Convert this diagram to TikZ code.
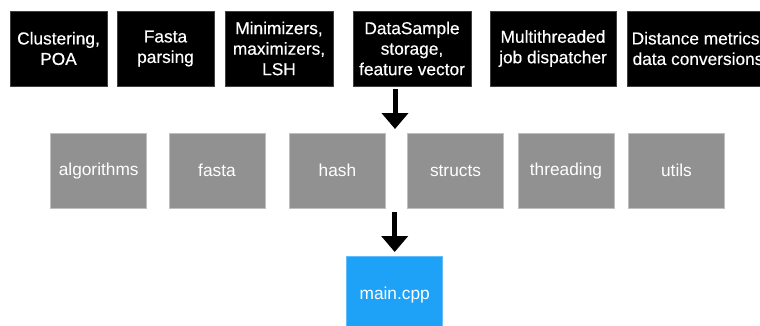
\documentclass[tikz,border=0pt]{standalone}
\usepackage{fontspec}
\setmainfont{Liberation Sans}
\newfontfamily\boxfont[FakeBold=0.4]{Liberation Sans}
\usetikzlibrary{arrows.meta}
\definecolor{boxgray}{RGB}{145,145,145}
\definecolor{boxblue}{RGB}{29,162,248}
\tikzset{
  topbox/.style={fill=black, draw=black!75, line width=0.6bp, text=white, align=center,
    inner sep=0pt, minimum height=75bp, font=\boxfont\fontsize{17.3bp}{20.5bp}\selectfont},
  modbox/.style={fill=boxgray, draw=black!25, line width=0.6bp, text=white, align=center,
    inner sep=0pt, minimum width=96bp, minimum height=75bp, font=\fontsize{17.3bp}{20bp}\selectfont},
  mainbox/.style={fill=boxblue, draw=boxblue!70!white, line width=0.6bp, text=white, align=center,
    inner sep=0pt, minimum width=96bp, minimum height=78bp, font=\fontsize{17.3bp}{20bp}\selectfont},
  bigarrow/.style={line width=5bp, -{Triangle[width=26bp,length=16bp]}}
}
\begin{document}
\begin{tikzpicture}[x=1bp,y=-1bp]
\useasboundingbox (0,0) rectangle (760,325);
\fill[white] (0,0) rectangle (760,325);
% top row
\node[topbox, minimum width=97bp]  (c1) at (58.5,48.5)  {Clustering,\\POA};
\node[topbox, minimum width=97bp]  (c2) at (165.5,48.5) {Fasta\\parsing};
\node[topbox, minimum width=108bp] (c3) at (279,48.5)   {Minimizers,\\maximizers,\\LSH};
\node[topbox, minimum width=118bp] (c4) at (412,48.5)   {DataSample\\storage,\\feature vector};
\node[topbox, minimum width=126bp] (c5) at (553,48.5)   {Multithreaded\\job dispatcher};
\node[topbox, minimum width=142bp] (c6) at (698,48.5)   {Distance metrics,\\data conversions};
% module row
\node[modbox] (m1) at (98.7,170.8)  {algorithms};
\node[modbox] (m2) at (217,170.8)   {fasta};
\node[modbox] (m3) at (337.5,170.8) {hash};
\node[modbox] (m4) at (455.5,170.8) {structs};
\node[modbox] (m5) at (566,170.8)   {threading};
\node[modbox] (m6) at (676.5,170.8) {utils};
% main
\node[mainbox] (mainf) at (394.7,295) {main.cpp};
% arrows
\coordinate (a1s) at (395,89);
\coordinate (a1e) at (395,129);
\coordinate (a2s) at (394.7,212);
\coordinate (a2e) at (394.7,252);
\draw[bigarrow] (a1s) -- (a1e);
\draw[bigarrow] (a2s) -- (a2e);
\end{tikzpicture}
\end{document}
